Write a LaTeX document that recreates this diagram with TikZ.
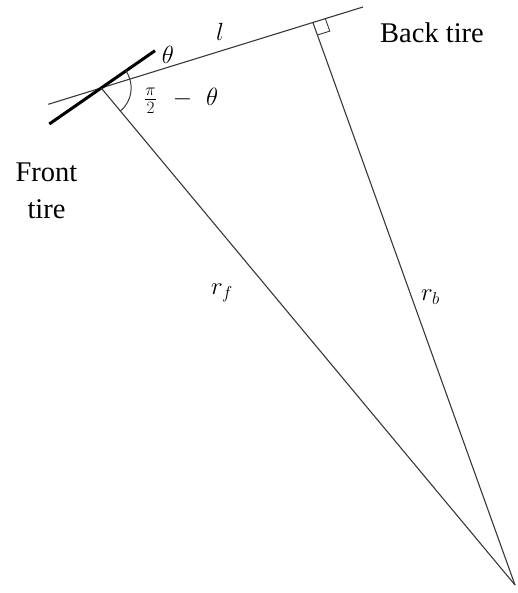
\documentclass[tikz,border=0pt]{standalone}
\usepackage{fontspec}
\setmainfont{Liberation Serif}
\usetikzlibrary{calc,angles}
\begin{document}
\begin{tikzpicture}[x=1pt,y=-1pt,
  thinline/.style={draw=black!78,line width=1.1pt},
  tireline/.style={draw=black,line width=3pt},
  txt/.style={inner sep=0pt,font=\fontsize{28.5}{36.6}\selectfont},
  mlabel/.style={inner sep=0pt,font=\fontsize{27}{31}\selectfont}]
\useasboundingbox (0,0) rectangle (517,593);
% key points (pixel coordinates, y downward)
\coordinate (F) at (101.2,88);
\coordinate (L1) at (48.3,104.3);
\coordinate (L2) at (363,7);
\coordinate (B) at (313,22.8);
\coordinate (O) at (515,585);
\coordinate (T1) at (49.3,124);
\coordinate (T2) at (155,50.7);
% line l
\draw[thinline] (L1) -- (L2);
% front tire
\draw[tireline] (T1) -- (T2);
% radii
\draw[thinline] (F) -- (O);
\draw[thinline] (B) -- (O);
% angle arc
\pic[draw=black!78,line width=1pt,angle radius=30pt] {angle = O--F--T2};
% right angle mark
\coordinate (ra) at ($(B)!13pt!(L2)$);
\coordinate (rc) at ($(B)!13pt!(O)$);
\draw[thinline,line width=0.9pt] (ra) -- ($(ra)+(rc)-(B)$) -- (rc);
% labels
\node[mlabel] (theta) at (168,55) {$\theta$};
\node[mlabel] (ell) at (220,31.7) {$l$};
\node[mlabel,anchor=west] (pth) at (144,101) {$\frac{\pi}{2}\hspace{16pt}{-}\hspace{14pt}\theta$};
\node[mlabel,anchor=base west] (rf) at (211,294.3) {$r_f$};
\node[mlabel,anchor=base west] (rb) at (421,300.7) {$r_b$};
\node[txt,anchor=base west] (back) at (380,43) {Back tire};
\node[txt,anchor=base,align=center] (front) at (46.5,218.3) {Front\\tire};
\end{tikzpicture}
\end{document}
